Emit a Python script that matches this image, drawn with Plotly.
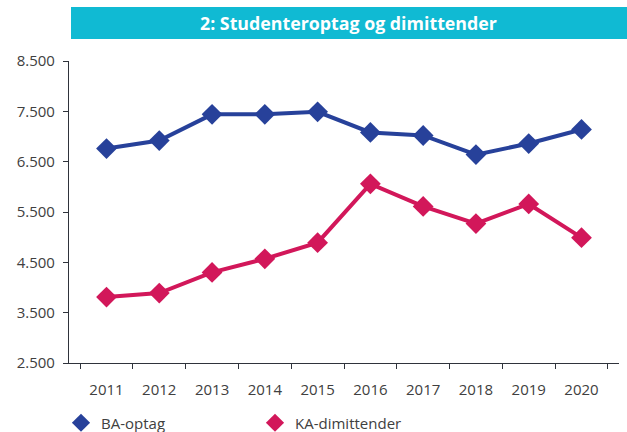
import plotly.graph_objects as go

years = ["2011", "2012", "2013", "2014", "2015", "2016", "2017", "2018", "2019", "2020"]
ba_optag = [6760, 6920, 7440, 7440, 7490, 7080, 7020, 6640, 6860, 7140]
ka_dimittender = [3810, 3890, 4300, 4570, 4890, 6060, 5610, 5270, 5660, 4990]
y_ticks = [2500, 3500, 4500, 5500, 6500, 7500, 8500]

BLUE = "#27419A"
RED = "#D2175A"
FONT = "Open Sans, Noto Sans, sans-serif"

fig = go.Figure()
for name, vals, col in [("BA-optag", ba_optag, BLUE), ("KA-dimittender", ka_dimittender, RED)]:
    fig.add_trace(go.Scatter(x=years, y=vals, mode="lines+markers", name=name,
                             line=dict(color=col, width=4),
                             marker=dict(symbol="diamond", size=16, color=col),
                             showlegend=False))
    fig.add_trace(go.Scatter(x=[None], y=[None], mode="markers", name=name,
                             marker=dict(symbol="diamond", size=14, color=col),
                             showlegend=True))

fig.update_layout(
    width=627, height=432,
    margin=dict(l=69, r=8, t=61, b=69, autoexpand=False),
    paper_bgcolor="white", plot_bgcolor="white",
    separators=",.",
    font=dict(family=FONT, size=15, color="#404040"),
    showlegend=True,
    legend=dict(orientation="h", xref="container", yref="container",
                x=61 / 627, y=(432 - 423) / 432, xanchor="left", yanchor="middle",
                entrywidth=149, entrywidthmode="pixels",
                font=dict(size=15, color="#404040"), itemsizing="trace",
                tracegroupgap=0),
    xaxis=dict(type="category", showgrid=False, showline=True, linecolor="#2f333b",
               linewidth=1.2, ticks="outside", tickson="boundaries", ticklen=5,
               tickcolor="#2f333b", ticklabelstandoff=13, zeroline=False,
               automargin=False),
    yaxis=dict(range=[2500, 8500], tickvals=y_ticks, tickformat=",d",
               showgrid=False, showline=True, linecolor="#2f333b", linewidth=1.2,
               ticks="outside", ticklen=5, tickcolor="#2f333b", zeroline=False,
               ticklabelstandoff=5, automargin=False),
)

fig.add_shape(type="rect", xref="paper", yref="paper",
              x0=(71 - 69) / 550, x1=1.02, y0=(363 - 39) / 302, y1=(363 - 7) / 302,
              fillcolor="#10BAD3", line=dict(width=0), layer="below")
fig.add_annotation(text="<b>2: Studenteroptag og dimittender</b>", xref="paper", yref="paper",
                   x=(349 - 69) / 550, y=(363 - 23) / 302, showarrow=False,
                   xanchor="center", yanchor="middle",
                   font=dict(family=FONT, size=17.8, color="white"))

fig.write_html("out.html", config={"displayModeBar": False},
               post_script="document.body.style.margin='0';document.body.style.overflow='hidden';")
